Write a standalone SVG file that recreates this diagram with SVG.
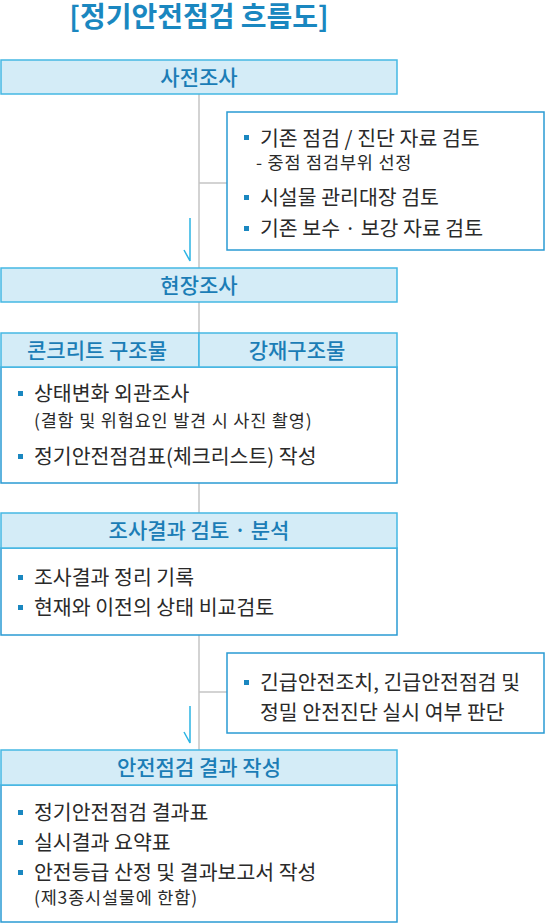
<svg xmlns="http://www.w3.org/2000/svg" width="545" height="923" viewBox="0 0 545 923">
<style>
text{font-family:"Noto Sans CJK KR","Noto Sans",sans-serif}
.title{font-size:28px;font-weight:bold;fill:#1a87c0}
.hd{fill:#d4ecf7;stroke:#45b8e3;stroke-width:1.5}
.bd{fill:#ffffff;stroke:#2a9bd3;stroke-width:1.5}
.ht{font-size:21px;font-weight:500;fill:#1b7db6;text-anchor:middle}
.t{font-size:20.5px;fill:#2a2a2a}
.s{font-size:17.5px;letter-spacing:0.8px;fill:#2a2a2a}
.b{fill:#1a87c0}
.ln{stroke:#c4c4c4;stroke-width:1.5;fill:none}
.ar{stroke:#2bb4e4;stroke-width:1.5;fill:none}
</style>
<text class="title" x="199" y="27" text-anchor="middle">[정기안전점검 흐름도]</text>
<g id="connectors">
<line class="ln" x1="199" y1="94" x2="199" y2="513"/>
<line class="ln" x1="199" y1="183" x2="227" y2="183"/>
<line class="ln" x1="199" y1="635" x2="199" y2="750"/>
<line class="ln" x1="199" y1="692" x2="227" y2="692"/>
<path class="ar" d="M190 218 V261 L184 250"/>
<path class="ar" d="M190 706 V743 L184 732"/>
</g>
<g id="n1">
<rect class="hd" x="1" y="60" width="396" height="34"/>
<text class="ht" x="199" y="85">사전조사</text>
</g>
<g id="side1">
<rect class="bd" x="227" y="112" width="317" height="138"/>
<rect class="b" x="244" y="135" width="5" height="5"/>
<text class="t" x="260" y="146">기존 점검 / 진단 자료 검토</text>
<text class="s" x="256" y="169">- 중점 점검부위 선정</text>
<rect class="b" x="244" y="195" width="5" height="5"/>
<text class="t" x="260" y="205">시설물 관리대장 검토</text>
<rect class="b" x="244" y="226" width="5" height="5"/>
<text class="t" x="260" y="236">기존 보수 ·  보강 자료 검토</text>
</g>
<g id="n2">
<rect class="hd" x="1" y="268" width="396" height="34"/>
<text class="ht" x="199" y="293">현장조사</text>
</g>
<g id="n3">
<rect class="bd" x="1" y="367" width="396" height="116"/>
<rect class="hd" x="1" y="333" width="198" height="34"/>
<rect class="hd" x="199" y="333" width="198" height="34"/>
<text class="ht" x="97" y="358">콘크리트 구조물</text>
<text class="ht" x="297" y="358">강재구조물</text>
<rect class="b" x="18" y="391" width="5" height="5"/>
<text class="t" x="34" y="401">상태변화 외관조사</text>
<text class="s" x="34" y="427">(결함 및 위험요인 발견 시 사진 촬영)</text>
<rect class="b" x="18" y="454" width="5" height="5"/>
<text class="t" x="34" y="464">정기안전점검표(체크리스트) 작성</text>
</g>
<g id="n4">
<rect class="bd" x="1" y="548" width="396" height="87"/>
<rect class="hd" x="1" y="513" width="396" height="35"/>
<text class="ht" x="199" y="538">조사결과 검토 · 분석</text>
<rect class="b" x="18" y="575" width="5" height="5"/>
<text class="t" x="34" y="585">조사결과 정리 기록</text>
<rect class="b" x="18" y="605" width="5" height="5"/>
<text class="t" x="34" y="615">현재와 이전의 상태 비교검토</text>
</g>
<g id="side2">
<rect class="bd" x="227" y="653" width="317" height="80"/>
<rect class="b" x="244" y="680" width="5" height="5"/>
<text class="t" x="260" y="690">긴급안전조치, 긴급안전점검 및</text>
<text class="t" x="260" y="720">정밀 안전진단 실시 여부 판단</text>
</g>
<g id="n5">
<rect class="bd" x="1" y="785" width="396" height="137"/>
<rect class="hd" x="1" y="750" width="396" height="35"/>
<text class="ht" x="199" y="775">안전점검 결과 작성</text>
<rect class="b" x="18" y="810" width="5" height="5"/>
<text class="t" x="34" y="820">정기안전점검 결과표</text>
<rect class="b" x="18" y="840" width="5" height="5"/>
<text class="t" x="34" y="850">실시결과 요약표</text>
<rect class="b" x="18" y="870" width="5" height="5"/>
<text class="t" x="34" y="880">안전등급 산정 및 결과보고서 작성</text>
<text class="s" x="34" y="904">(제3종시설물에 한함)</text>
</g>
</svg>
